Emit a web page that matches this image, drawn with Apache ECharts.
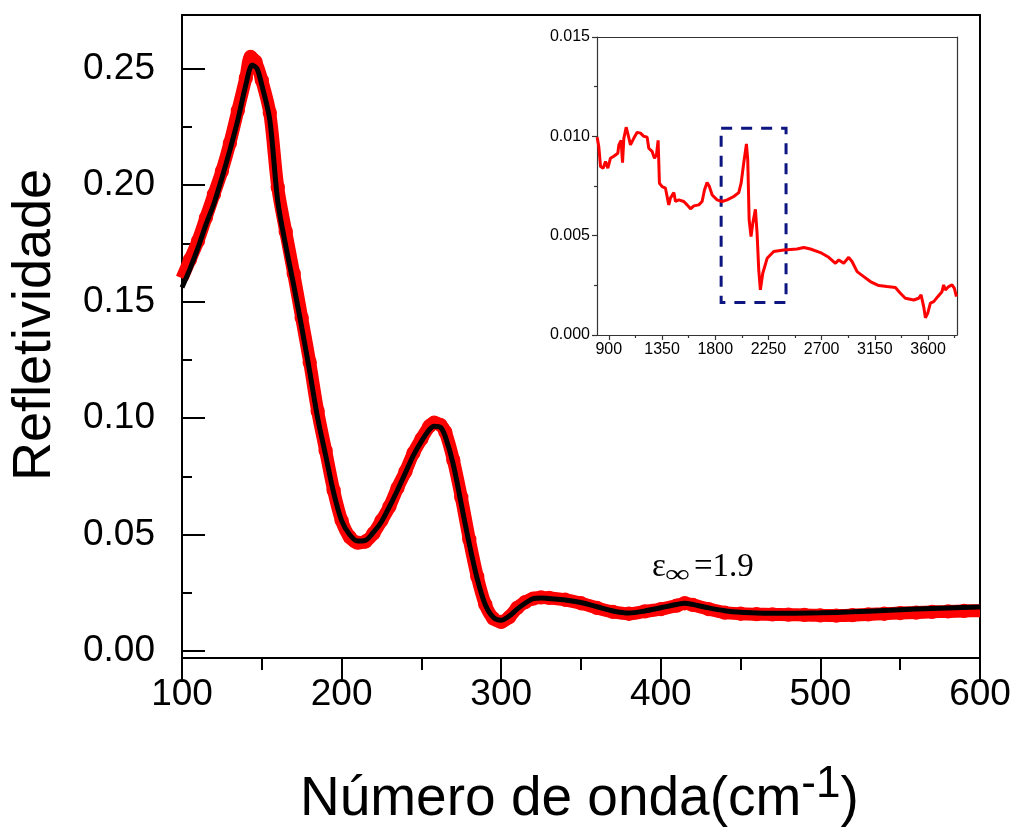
<!DOCTYPE html>
<html>
<head>
<meta charset="utf-8">
<script src="https://cdn.jsdelivr.net/npm/echarts@6/dist/echarts.min.js"></script>
<style>html,body{margin:0;padding:0;background:#fff;}#c{width:1016px;height:835px;}</style>
</head>
<body>
<div id="c"></div>
<script>
// ---- main plot data ----
const measX = [100,105,110,115,120,125,130,135,140,143,146,150,155,160,165,170,175,180,185,190,195,200,205,210,215,220,225,230,235,240,245,250,255,258,262,265,270,275,280,285,290,295,300,305,310,315,320,325,330,340,350,360,370,380,390,400,410,415,420,430,440,450,460,470,480,490,500,510,520,530,540,550,560,570,580,590,600];
const measY = [0.160,0.168,0.176,0.186,0.196,0.206,0.218,0.232,0.246,0.255,0.253,0.245,0.231,0.199,0.180,0.162,0.143,0.124,0.103,0.086,0.069,0.056,0.049,0.0465,0.047,0.0505,0.056,0.062,0.070,0.077,0.085,0.091,0.0965,0.098,0.097,0.094,0.082,0.066,0.048,0.032,0.020,0.014,0.0125,0.0145,0.0185,0.021,0.0225,0.023,0.0228,0.022,0.0205,0.0185,0.0168,0.016,0.017,0.018,0.0195,0.0205,0.0198,0.018,0.0165,0.016,0.0158,0.0157,0.0156,0.0155,0.0153,0.0152,0.0154,0.0157,0.016,0.0163,0.0165,0.0168,0.017,0.0172,0.0173];
const fitX = [100,105,110,115,120,125,130,135,140,144,147,150,155,160,165,170,175,180,185,190,195,200,205,210,215,220,225,230,235,240,245,250,255,258,262,265,270,275,280,285,290,295,300,305,310,315,320,325,330,340,350,360,370,380,390,400,410,415,420,430,440,450,460,470,480,500,520,540,560,580,600];
const fitY = [0.156,0.164,0.173,0.183,0.192,0.203,0.215,0.228,0.243,0.2515,0.250,0.243,0.228,0.193,0.174,0.157,0.139,0.120,0.100,0.084,0.068,0.056,0.050,0.0472,0.0475,0.051,0.0555,0.062,0.069,0.0765,0.084,0.090,0.095,0.0965,0.096,0.092,0.080,0.063,0.046,0.031,0.020,0.0145,0.0132,0.015,0.018,0.0205,0.0225,0.0228,0.0225,0.0219,0.0208,0.019,0.0172,0.0163,0.0172,0.0186,0.020,0.0205,0.020,0.0185,0.0173,0.0166,0.0163,0.0162,0.0162,0.0164,0.0168,0.0174,0.018,0.0185,0.0189];
const mainYTicks = [0,0.05,0.10,0.15,0.20,0.25];
const mainYMinor = [0.025,0.075,0.125,0.175,0.225];

// ---- inset data ----
const insX = [801,815,830,852,872,892,914,942,976,985,1004,1016,1027,1047,1063,1083,1111,1140,1168,1196,1224,1238,1266,1286,1303,1317,1328,1351,1379,1393,1407,1421,1450,1464,1492,1534,1562,1591,1619,1661,1689,1709,1731,1751,1774,1816,1858,1901,1957,1999,2019,2041,2064,2075,2087,2103,2118,2140,2154,2168,2182,2202,2239,2295,2380,2492,2549,2605,2690,2760,2817,2845,2887,2929,2957,3000,3056,3112,3183,3253,3324,3366,3408,3479,3521,3541,3563,3578,3597,3620,3648,3682,3718,3732,3747,3775,3803,3823,3840];
const insY = [0.00996,0.00949,0.00848,0.0084,0.00873,0.0084,0.0089,0.0090,0.00915,0.00957,0.0098,0.00868,0.0099,0.01046,0.01008,0.00957,0.0099,0.0102,0.01016,0.0100,0.00996,0.0094,0.00924,0.0089,0.00907,0.0098,0.00764,0.00747,0.00739,0.00697,0.00655,0.00689,0.00717,0.00672,0.0068,0.00672,0.00655,0.00635,0.0065,0.00655,0.00672,0.0073,0.00768,0.00747,0.00705,0.0068,0.00672,0.0068,0.00697,0.00717,0.00764,0.00865,0.00962,0.00882,0.00579,0.00496,0.00563,0.00633,0.00512,0.00328,0.00227,0.00311,0.00386,0.0042,0.00428,0.00433,0.0044,0.00433,0.00415,0.00391,0.00361,0.00378,0.00361,0.00391,0.0037,0.00319,0.00294,0.00269,0.00249,0.00244,0.00239,0.0021,0.00185,0.00176,0.00185,0.00202,0.00143,0.00087,0.00109,0.0016,0.00168,0.00193,0.00218,0.00252,0.00227,0.00244,0.00252,0.00235,0.00193];
const insXTicks = [900,1350,1800,2250,2700,3150,3600];
const insXMinor = [1125,1575,2025,2475,2925,3375,3825];
const boxX = [1850,2399];
const boxY = [0.01041,0.00163];

const FONT = 'Liberation Sans, Arial, Helvetica, sans-serif';
const SERIF = 'Liberation Serif, Times New Roman, serif';
const zip = (a,b) => a.map((v,i) => [v,b[i]]);

const chart = echarts.init(document.getElementById('c'), null, {renderer:'canvas'});
const blackLine = () => ({show:true, onZero:false, lineStyle:{color:'#000', width:2}});
const insLine = () => ({show:true, onZero:false, lineStyle:{color:'#333', width:1.2}});
const none = () => ({show:false});
const noLine = () => ({show:false, onZero:false});

chart.setOption({
  animation:false,
  backgroundColor:'#fff',
  grid:[
    {left:182, top:15, width:798, height:643, containLabel:false},
    {left:597, top:37, width:360, height:298, containLabel:false}
  ],
  xAxis:[
    {gridIndex:0, type:'value', position:'bottom', min:100, max:600, interval:100, axisLine:blackLine(),
     axisTick:{show:true, inside:false, length:24, lineStyle:{color:'#000', width:2}},
     minorTick:{show:true, splitNumber:2, length:12, lineStyle:{color:'#000', width:2}},
     axisLabel:{show:true, color:'#000', fontSize:37, fontFamily:FONT, margin:18},
     splitLine:none(), minorSplitLine:none()},
    {gridIndex:0, type:'value', position:'top', min:100, max:600, axisLine:blackLine(), axisTick:none(), minorTick:none(), axisLabel:none(), splitLine:none()},
    {gridIndex:1, type:'value', position:'bottom', min:800, max:3845, axisLine:insLine(),
     axisTick:{show:true, length:5, customValues:insXTicks, lineStyle:{color:'#333', width:1.2}},
     axisLabel:{show:true, customValues:insXTicks, color:'#000', fontSize:16, fontFamily:FONT, margin:7, formatter:v=>String(v)},
     splitLine:none()},
    {gridIndex:1, type:'value', position:'bottom', min:800, max:3845, axisLine:noLine(),
     axisTick:{show:true, length:3, customValues:insXMinor, lineStyle:{color:'#333', width:1.2}},
     axisLabel:none(), splitLine:none()},
    {gridIndex:1, type:'value', position:'top', min:800, max:3845, axisLine:insLine(), axisTick:none(), axisLabel:none(), splitLine:none()}
  ],
  yAxis:[
    {gridIndex:0, type:'value', position:'left', min:-0.003, max:0.273, axisLine:blackLine(),
     axisTick:{show:true, inside:true, length:23, customValues:mainYTicks, lineStyle:{color:'#000', width:2}},
     axisLabel:{show:true, customValues:mainYTicks, color:'#000', fontSize:37, fontFamily:FONT, margin:27, formatter:v=>v.toFixed(2)},
     splitLine:none()},
    {gridIndex:0, type:'value', position:'left', min:-0.003, max:0.273, axisLine:noLine(),
     axisTick:{show:true, inside:true, length:10, customValues:mainYMinor, lineStyle:{color:'#000', width:2}},
     axisLabel:none(), splitLine:none()},
    {gridIndex:0, type:'value', position:'right', min:-0.003, max:0.273, axisLine:blackLine(), axisTick:none(), minorTick:none(), axisLabel:none(), splitLine:none()},
    {gridIndex:1, type:'value', position:'left', min:0, max:0.015, interval:0.005, axisLine:insLine(),
     axisTick:{show:true, length:5, lineStyle:{color:'#333', width:1.2}},
     minorTick:{show:true, splitNumber:2, length:3, lineStyle:{color:'#333', width:1.2}},
     axisLabel:{show:true, color:'#000', fontSize:16, fontFamily:FONT, margin:7, formatter:v=>v.toFixed(3)},
     splitLine:none(), minorSplitLine:none()},
    {gridIndex:1, type:'value', position:'right', min:0, max:0.015, axisLine:insLine(), axisTick:none(), minorTick:none(), axisLabel:none(), splitLine:none()}
  ],
  series:[
    {type:'line', xAxisIndex:0, yAxisIndex:0, data:zip(measX,measY), smooth:0.3, clip:true,
     lineStyle:{color:'#ff0000', width:13}, symbol:'circle',
     symbolSize:v => (v[0] <= 100 || v[0] >= 600) ? 0 : 13, showSymbol:true, showAllSymbol:true,
     itemStyle:{color:'rgba(255,0,0,0)', borderColor:'#ff0000', borderWidth:1.3}, z:2},
    {type:'line', xAxisIndex:0, yAxisIndex:0, data:zip(fitX,fitY), smooth:0.3,
     lineStyle:{color:'#000', width:5}, symbol:'none', z:3},
    {type:'line', xAxisIndex:2, yAxisIndex:3, data:zip(insX,insY), smooth:false,
     lineStyle:{color:'#ff0000', width:3}, symbol:'none', z:3,
     markArea:{silent:true, itemStyle:{color:'rgba(0,0,0,0)', borderColor:'#0d1580', borderWidth:3, borderType:[11,9]},
       data:[[{coord:[boxX[0],boxY[0]]},{coord:[boxX[1],boxY[1]]}]]}}
  ],
  graphic:[
    {type:'text', left:300, top:763, style:{text:'Número de onda(cm{sup|-1})', fill:'#000', font:'55px '+FONT,
      rich:{sup:{fontSize:44, fontFamily:FONT, fill:'#000', padding:[0,0,30,0]}}}},
    {type:'text', x:35, y:325, rotation:Math.PI/2, style:{text:'Refletividade', fill:'#000', font:'54px '+FONT, align:'center', verticalAlign:'middle'}},
    {type:'text', x:652, y:584, style:{text:'ε', fill:'#000', font:'33px '+SERIF, verticalAlign:'bottom'}},
    {type:'text', x:665, y:588, scaleX:1.4, style:{text:'∞', fill:'#000', font:'25px '+SERIF, verticalAlign:'bottom'}},
    {type:'text', x:694, y:584, style:{text:'=1.9', fill:'#000', font:'33px '+SERIF, verticalAlign:'bottom'}}
  ]
});
</script>
</body>
</html>
